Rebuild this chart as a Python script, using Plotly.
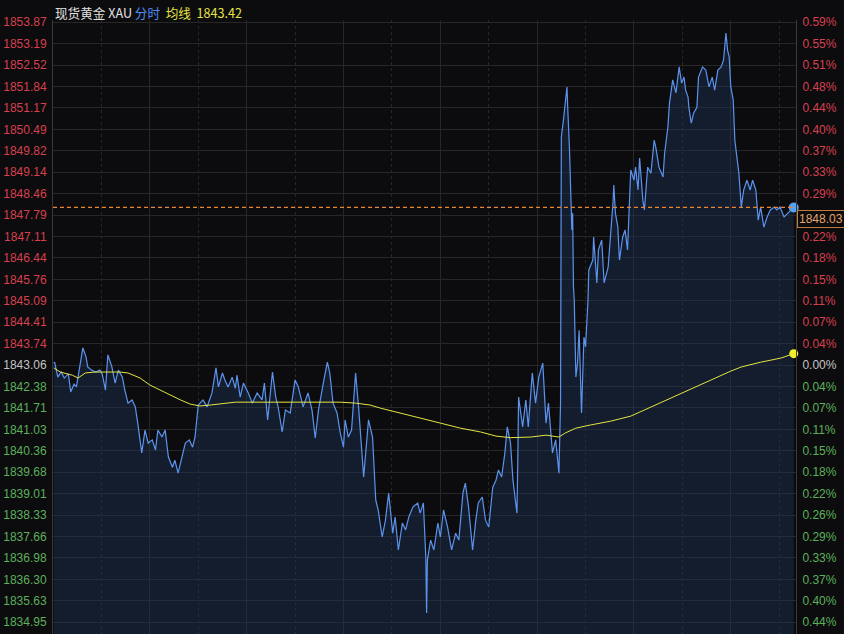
import plotly.graph_objects as go

# ---- data ----
minutes = [1, 2, 6, 10, 14, 19, 22, 26, 29, 31, 36, 37, 41, 43, 48, 53, 58, 61, 65, 68,
           73, 77, 81, 86, 89, 93, 98, 102, 105, 110, 114, 118, 123, 127, 130, 135, 139, 143, 148, 151,
           155, 160, 164, 169, 173, 176, 179, 180, 186, 191, 197, 202, 205, 210, 213, 217, 222, 226, 228, 232,
           236, 242, 247, 253, 259, 262, 266, 272, 276, 279, 284, 288, 294, 300, 304, 310, 316, 321, 325, 329,
           335, 340, 343, 347, 352, 356, 360, 362, 366, 370, 375, 379, 385, 391, 396, 400, 403, 408, 412, 416,
           421, 424, 428, 433, 437, 441, 446, 452, 455, 459, 462, 463, 464, 468, 472, 477, 480, 484, 489, 494,
           499, 503, 508, 511, 515, 520, 524, 527, 532, 536, 540, 545, 549, 552, 556, 560, 563, 567, 570, 572,
           575, 576, 577, 582, 586, 589, 594, 598, 602, 607, 611, 614, 619, 623, 627, 629, 630, 633, 637, 638,
           640, 643, 644, 645, 646, 648, 650, 652, 654, 655, 658, 660, 663, 664, 669, 670, 674, 676, 680, 683,
           688, 691, 694, 695, 697, 700, 702, 706, 709, 712, 714, 716, 720, 722, 725, 727, 731, 733, 736, 737,
           741, 745, 747, 751, 756, 758, 762, 764, 768, 772, 776, 779, 782, 784, 787, 788, 791, 794, 798, 800,
           805, 809, 813, 817, 820, 824, 828, 831, 834, 836, 838, 840, 843, 845, 848, 850, 853, 856, 860, 864,
           867, 871, 874, 877, 881, 885, 889, 894, 897, 901, 906, 911, 915, 918]
prices = [1843.12, 1843.15, 1842.68, 1842.84, 1842.65, 1842.78, 1842.21, 1842.46, 1842.37, 1842.68,
          1843.53, 1843.60, 1843.31, 1843.00, 1842.90, 1842.84, 1842.90, 1842.78, 1842.27, 1843.38,
          1843.00, 1842.49, 1842.90, 1842.68, 1842.27, 1841.86, 1841.96, 1841.74, 1841.23, 1840.29,
          1841.01, 1840.60, 1840.70, 1840.38, 1841.01, 1840.79, 1841.01, 1840.16, 1839.84, 1840.06,
          1839.65, 1840.16, 1840.60, 1840.70, 1840.47, 1840.79, 1841.42, 1841.80, 1841.96, 1841.74,
          1842.18, 1842.97, 1842.37, 1842.81, 1842.59, 1842.37, 1842.68, 1842.33, 1842.74, 1842.05,
          1842.49, 1842.18, 1841.86, 1842.18, 1841.96, 1842.49, 1841.33, 1842.84, 1842.05, 1841.74,
          1840.95, 1841.64, 1841.55, 1842.59, 1842.37, 1841.74, 1842.18, 1841.64, 1840.76, 1841.64,
          1842.49, 1843.15, 1842.81, 1841.86, 1841.55, 1840.92, 1840.47, 1841.33, 1840.79, 1841.01,
          1842.81, 1841.64, 1839.53, 1841.33, 1840.79, 1838.80, 1838.49, 1837.64, 1838.17, 1839.02,
          1837.76, 1838.27, 1837.23, 1838.08, 1837.86, 1838.27, 1838.58, 1838.71, 1838.39, 1838.71,
          1837.01, 1835.24, 1836.91, 1837.54, 1837.23, 1838.08, 1837.64, 1838.49, 1837.95, 1837.23,
          1837.76, 1837.54, 1839.02, 1839.34, 1838.58, 1837.23, 1838.17, 1838.71, 1838.90, 1838.17,
          1837.95, 1839.21, 1839.43, 1839.75, 1839.53, 1840.29, 1841.11, 1840.60, 1839.43, 1839.02,
          1838.39, 1840.06, 1842.05, 1841.11, 1841.96, 1841.11, 1842.81, 1841.86, 1842.68, 1843.12,
          1841.23, 1841.86, 1840.29, 1840.70, 1839.65, 1841.86, 1850.25, 1850.88, 1851.83, 1851.10,
          1849.93, 1847.32, 1847.85, 1845.52, 1845.11, 1842.68, 1843.12, 1844.16, 1842.37, 1841.55,
          1843.94, 1843.63, 1845.11, 1846.06, 1846.37, 1847.10, 1845.65, 1846.69, 1847.00, 1845.65,
          1846.15, 1847.10, 1848.17, 1848.74, 1847.85, 1847.41, 1846.37, 1847.10, 1847.32, 1846.69,
          1847.95, 1849.21, 1848.89, 1849.30, 1848.58, 1849.59, 1848.26, 1847.95, 1848.99, 1849.30,
          1849.11, 1850.15, 1849.93, 1849.30, 1848.99, 1849.74, 1850.56, 1851.32, 1852.05, 1851.64,
          1852.46, 1851.95, 1852.14, 1851.73, 1851.51, 1851.19, 1850.69, 1851.01, 1851.19, 1852.14,
          1852.46, 1852.36, 1851.83, 1852.14, 1851.73, 1852.36, 1852.46, 1852.68, 1853.53, 1852.99,
          1852.77, 1851.83, 1851.42, 1850.15, 1849.52, 1849.11, 1848.04, 1848.58, 1848.89, 1848.58,
          1848.89, 1848.58, 1847.63, 1848.04, 1847.41, 1847.73, 1847.95, 1848.04, 1847.95, 1848.04,
          1847.73, 1847.85, 1847.95, 1848.03]

avg_minutes = [1, 9, 24, 31, 40, 52, 71, 83, 93, 108, 120, 133, 145, 158, 170, 182, 195, 207, 226, 269,
               307, 356, 375, 393, 406, 431, 455, 480, 505, 530, 549, 567, 592, 611, 627, 635, 648, 666, 691, 716,
               741, 766, 791, 815, 840, 853, 877, 902, 918]
avg_prices = [1842.97, 1842.84, 1842.74, 1842.65, 1842.81, 1842.84, 1842.84, 1842.84, 1842.81, 1842.65,
              1842.43, 1842.27, 1842.11, 1841.96, 1841.83, 1841.77, 1841.80, 1841.83, 1841.89, 1841.89,
              1841.89, 1841.89, 1841.86, 1841.80, 1841.70, 1841.55, 1841.39, 1841.23, 1841.07, 1840.95,
              1840.82, 1840.77, 1840.79, 1840.85, 1840.79, 1840.92, 1841.07, 1841.17, 1841.29, 1841.45,
              1841.74, 1842.02, 1842.30, 1842.59, 1842.87, 1843.00, 1843.15, 1843.28, 1843.42]

prev_close = 1843.06
price_ticks = ["1853.87", "1853.19", "1852.52", "1851.84", "1851.17", "1850.49", "1849.82", "1849.14",
               "1848.46", "1847.79", "1847.11", "1846.44", "1845.76", "1845.09", "1844.41", "1843.74",
               "1843.06", "1842.38", "1841.71", "1841.03", "1840.36", "1839.68", "1839.01", "1838.33",
               "1837.66", "1836.98", "1836.30", "1835.63", "1834.95"]
pct_ticks = ["0.59%", "0.55%", "0.51%", "0.48%", "0.44%", "0.40%", "0.37%", "0.33%",
             "0.29%", "", "0.22%", "0.18%", "0.15%", "0.11%", "0.07%", "0.04%",
             "0.00%", "0.04%", "0.07%", "0.11%", "0.15%", "0.18%", "0.22%", "0.26%",
             "0.29%", "0.33%", "0.37%", "0.40%", "0.44%"]

title_name = "现货黄金 XAU"
title_mode = "分时"
title_avg = "均线"

# ---- styling ----
BG = "#0c0c0e"
RED = "#d8404e"
GREEN = "#5cb05c"
NEUTRAL = "#c4c4c4"
BLUE = "#5b93ee"
YELLOW = "#e4e444"
GRID = "#272727"
FONT = "Liberation Sans, Arial, sans-serif"


def colored(labels, values):
    out = []
    for lab, v in zip(labels, values):
        if abs(v - prev_close) < 0.005:
            c = NEUTRAL
        elif v > prev_close:
            c = RED
        else:
            c = GREEN
        out.append(f"<span style='color:{c}'>{lab}</span>" if lab else "")
    return out


tick_vals = [float(t) for t in price_ticks]
y_range = [1834.58, 1853.94]
x_range = [0, 920.8]

fig = go.Figure()

fig.add_trace(go.Scatter(
    x=minutes, y=prices, mode="lines",
    line=dict(color=BLUE, width=1.2),
    fill="tozeroy", fillcolor="rgba(32,50,84,0.45)",
    hoverinfo="skip", showlegend=False))

fig.add_trace(go.Scatter(
    x=avg_minutes, y=avg_prices, mode="lines",
    line=dict(color=YELLOW, width=1),
    hoverinfo="skip", showlegend=False, yaxis="y2"))

fig.add_trace(go.Scatter(
    x=[minutes[-1]], y=[prices[-1]], mode="markers",
    marker=dict(color="#55a2f5", size=10), cliponaxis=False,
    hoverinfo="skip", showlegend=False))

fig.add_trace(go.Scatter(
    x=[avg_minutes[-1]], y=[avg_prices[-1]], mode="markers",
    marker=dict(color="#f2f22a", size=9), cliponaxis=False,
    hoverinfo="skip", showlegend=False))

fig.add_shape(type="line", xref="paper", x0=0, x1=1, yref="y",
              y0=prices[-1], y1=prices[-1], layer="above",
              line=dict(color="#e8852e", width=1.2, dash="4px,3px"))

fig.add_annotation(xref="paper", x=1, xanchor="left", xshift=1,
                   yref="y", y=prices[-1], yanchor="top", yshift=-3,
                   text=f"{prices[-1]:.2f}", showarrow=False,
                   font=dict(family=FONT, size=12, color="#e3a468"),
                   bgcolor=BG, bordercolor="#c37a3e", borderwidth=1, borderpad=1)

fig.add_annotation(xref="paper", x=0, xanchor="left", yref="paper", y=1,
                   yanchor="middle", yshift=8, showarrow=False,
                   text=(f"<span style='color:#e2e2e2'>{title_name}</span> "
                         f"<span style='color:#4d8ef0'>{title_mode}</span>  "
                         f"<span style='color:{YELLOW}'>{title_avg}  {avg_prices[-1]:.2f}</span>"),
                   font=dict(family="Noto Sans CJK SC, " + FONT, size=12.6))

fig.update_layout(
    width=844, height=634,
    margin=dict(l=53, r=48, t=20, b=0),
    paper_bgcolor=BG, plot_bgcolor=BG,
    showlegend=False,
    hovermode=False,
    xaxis=dict(range=x_range, showticklabels=False, ticks="",
               showgrid=True, gridcolor=GRID, gridwidth=1, dtick=120, tick0=0,
               minor=dict(dtick=60, showgrid=True, gridcolor=GRID, griddash="dot"),
               zeroline=False, showline=False, fixedrange=True),
    yaxis=dict(range=y_range, tickvals=tick_vals, ticktext=colored(price_ticks, tick_vals),
               showgrid=True, gridcolor=GRID, gridwidth=1, zeroline=False,
               ticks="", ticklabelstandoff=3,
               tickfont=dict(family=FONT, size=12, color=NEUTRAL),
               showline=True, linecolor="#3a3a3a", linewidth=1),
    yaxis2=dict(range=y_range, overlaying="y", side="right",
                tickvals=tick_vals, ticktext=colored(pct_ticks, tick_vals),
                showgrid=False, zeroline=False, ticks="", ticklabelstandoff=3,
                tickfont=dict(family=FONT, size=12, color=NEUTRAL),
                showline=True, linecolor="#3a3a3a", linewidth=1),
)

fig.write_html("out.html", config={"displayModeBar": False},
               post_script="document.body.style.margin='0';document.body.style.background='" + BG + "';")
